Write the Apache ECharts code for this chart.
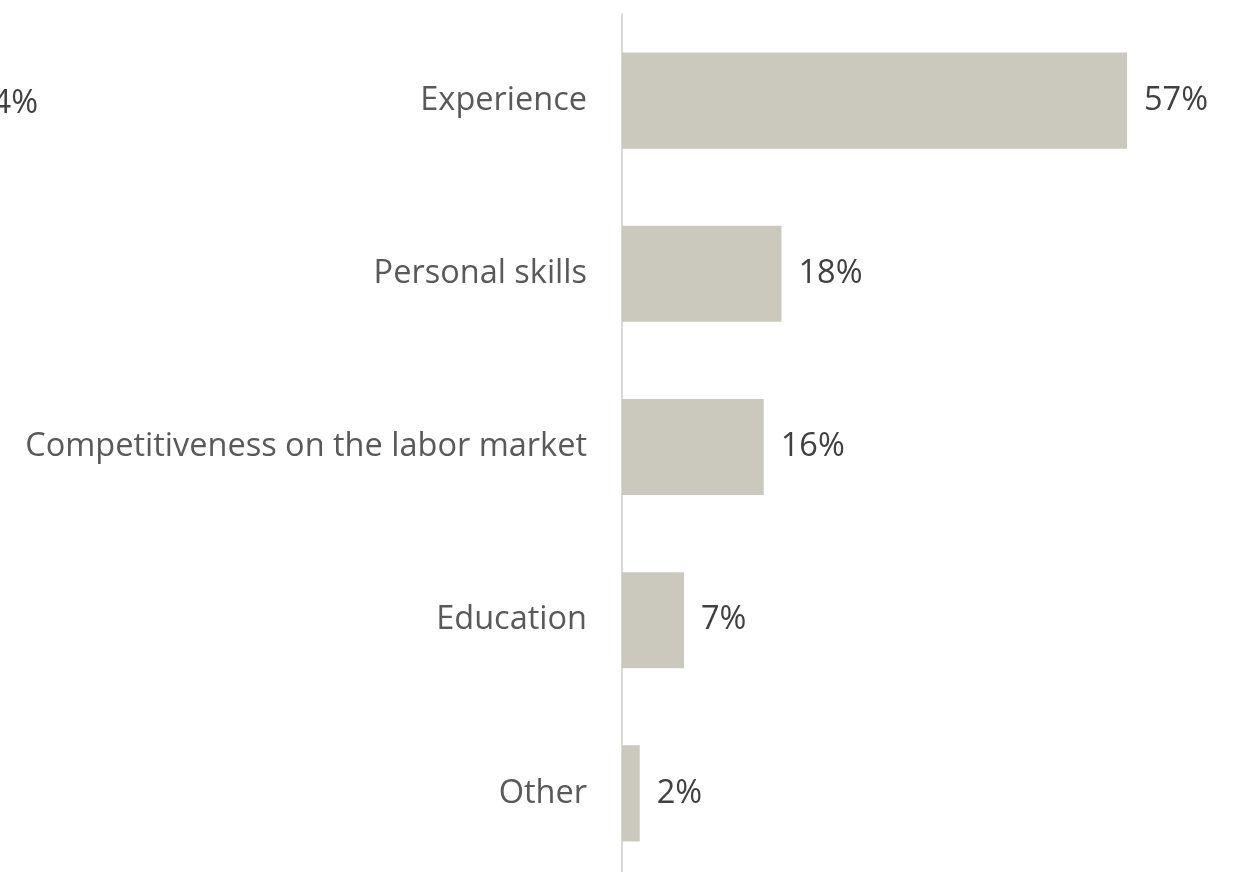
<!DOCTYPE html>
<html>
<head>
<meta charset="utf-8">
<script src="https://cdn.jsdelivr.net/npm/echarts@6/dist/echarts.min.js"></script>
<style>
  html, body { margin: 0; padding: 0; background: #ffffff; }
  #chart { width: 1235px; height: 872px; }
</style>
</head>
<body>
<div id="chart"></div>
<script>
// Survey answers, listed top to bottom
const categories = [
  'Experience',
  'Personal skills',
  'Competitiveness on the labor market',
  'Education',
  'Other'
];
const shares = [57, 18, 16, 7, 2];
// Partial value label that sits at the left edge of the panel
const edgeLabel = '4%';

const FONT = '"Open Sans", "Noto Sans", sans-serif';
const FONT_SIZE = 32.5;

const chart = echarts.init(document.getElementById('chart'), null, { renderer: 'canvas' });

chart.setOption({
  animation: false,
  backgroundColor: '#ffffff',
  grid: {
    left: 622, top: 14, height: 866, width: 531.6,
    containLabel: false,
    outerBoundsMode: 'none'
  },
  xAxis: {
    type: 'value',
    min: 0,
    max: 60,
    show: false
  },
  yAxis: {
    type: 'category',
    data: categories,
    inverse: true,
    axisLine: { show: true, lineStyle: { color: '#d9d9d9', width: 2 } },
    axisTick: { show: false },
    splitLine: { show: false },
    axisLabel: {
      margin: 35,
      padding: [6, 0, 0, 0],
      fontFamily: FONT,
      fontSize: FONT_SIZE,
      color: '#595959'
    }
  },
  series: [{
    type: 'bar',
    data: shares,
    barCategoryGap: '44.5%',
    itemStyle: { color: '#cbc9bd' },
    label: {
      show: true,
      position: 'right',
      distance: 17,
      padding: [6, 0, 0, 0],
      formatter: p => p.value + '%',
      fontFamily: FONT,
      fontSize: FONT_SIZE,
      color: '#404040'
    }
  }],
  graphic: [{
    type: 'text',
    x: 38,
    y: 104,
    style: {
      text: edgeLabel,
      align: 'right',
      verticalAlign: 'middle',
      font: FONT_SIZE + 'px ' + FONT,
      fill: '#404040'
    }
  }]
});
</script>
</body>
</html>
